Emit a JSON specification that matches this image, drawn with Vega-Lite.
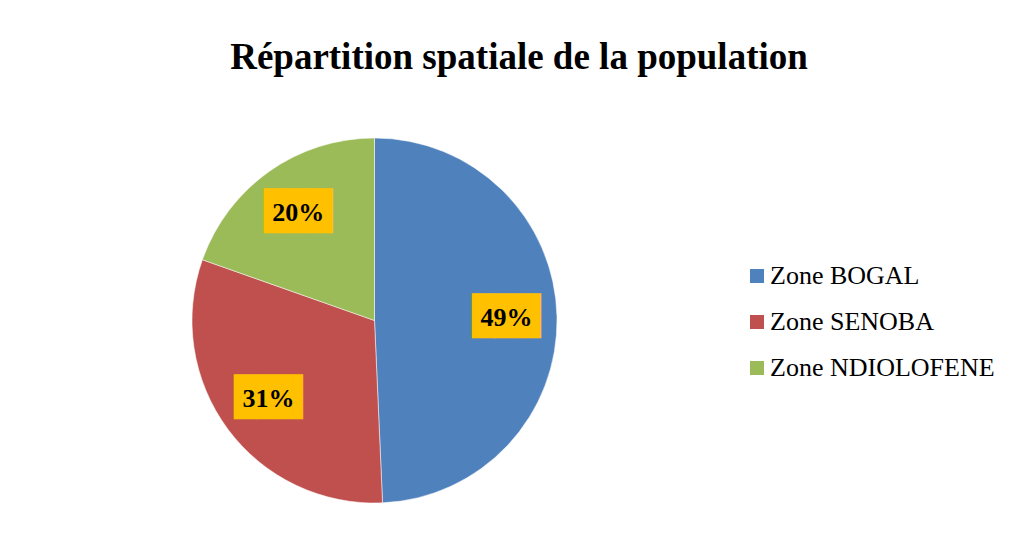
{
  "$schema": "https://vega.github.io/schema/vega-lite/v6.json",
  "width": 365,
  "height": 365,
  "autosize": {"type": "none"},
  "padding": {"left": 192, "top": 138, "right": 459, "bottom": 51},
  "background": "white",
  "config": {"view": {"stroke": null}},
  "title": {
    "text": "Répartition spatiale de la population",
    "font": "Liberation Serif",
    "fontSize": 37,
    "fontWeight": "bold",
    "color": "black",
    "anchor": "middle",
    "dx": 144.5,
    "offset": 31,
    "baseline": "alphabetic"
  },
  "data": {
    "values": [
      {"zone": "Zone BOGAL", "pct": 49.3, "label": "49%", "idx": 1},
      {"zone": "Zone SENOBA", "pct": 31.1, "label": "31%", "idx": 2},
      {"zone": "Zone NDIOLOFENE", "pct": 19.6, "label": "20%", "idx": 3}
    ]
  },
  "encoding": {
    "theta": {"field": "pct", "type": "quantitative", "stack": true},
    "order": {"field": "idx", "type": "quantitative"}
  },
  "layer": [
    {
      "mark": {"type": "arc", "outerRadius": 182.5, "stroke": "white", "strokeWidth": 0.5},
      "encoding": {
        "color": {
          "field": "zone",
          "type": "nominal",
          "scale": {
            "domain": ["Zone BOGAL", "Zone SENOBA", "Zone NDIOLOFENE"],
            "range": ["#4F81BD", "#C0504D", "#9BBB59"]
          },
          "legend": {
            "orient": "none",
            "legendX": 552,
            "legendY": 125,
            "title": null,
            "symbolType": "square",
            "symbolSize": 196,
            "symbolStrokeWidth": 0,
            "labelFont": "Liberation Serif",
            "labelFontSize": 26,
            "labelColor": "black",
            "labelOffset": 0,
            "labelLimit": 400,
            "rowPadding": 20,
            "padding": 0
          }
        }
      }
    },
    {
      "mark": {"type": "text", "radius": 132, "font": "DejaVu Sans Mono", "fontSize": 38, "color": "#FFC000"},
      "encoding": {"text": {"value": "███"}}
    },
    {
      "mark": {"type": "text", "radius": 132, "font": "Liberation Serif", "fontSize": 26, "fontWeight": "bold", "color": "black"},
      "encoding": {"text": {"field": "label", "type": "nominal"}}
    }
  ]
}
